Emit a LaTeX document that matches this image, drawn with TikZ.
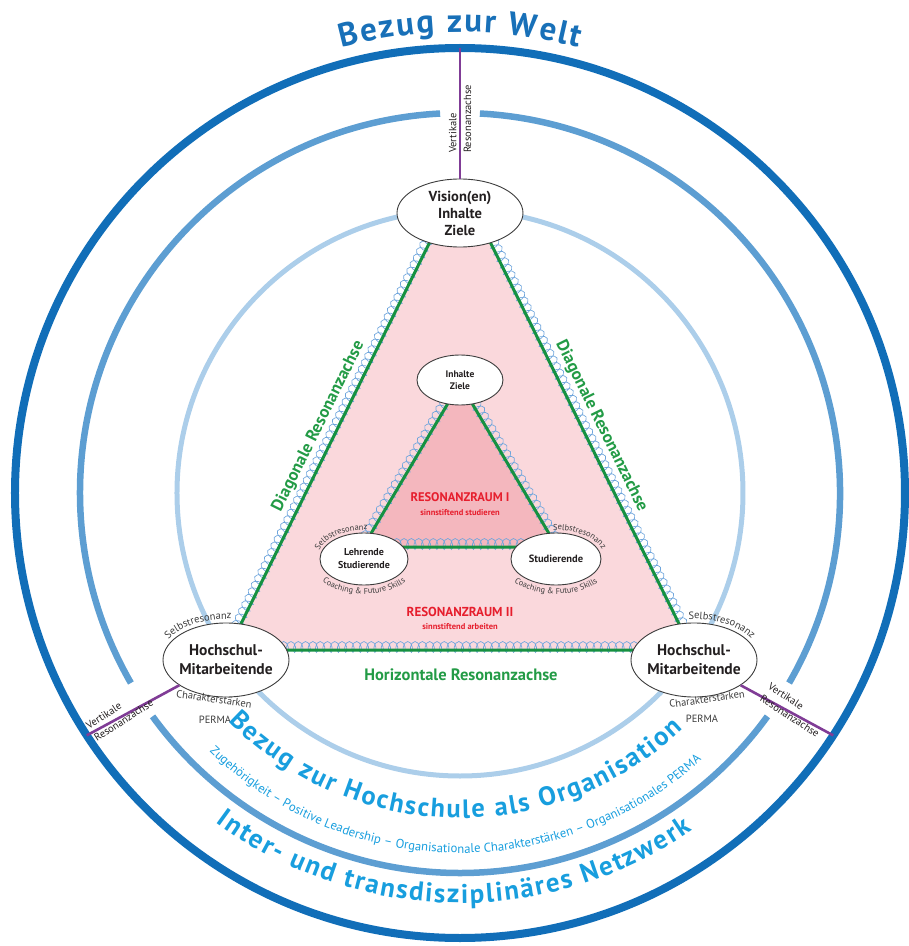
\documentclass[tikz,border=0pt]{standalone}
\usepackage{fontspec}
\setmainfont{PT Sans}
\usetikzlibrary{shapes.geometric,decorations.pathmorphing,decorations.text,calc}
\definecolor{cOuter}{RGB}{17,110,184}
\definecolor{cMid}{RGB}{93,158,210}
\definecolor{cInner}{RGB}{172,206,234}
\definecolor{cWelt}{RGB}{24,112,184}
\definecolor{cOrg}{RGB}{24,158,222}
\definecolor{purp}{RGB}{128,60,150}
\definecolor{grnL}{RGB}{22,145,65}
\definecolor{grnT}{RGB}{35,155,70}
\definecolor{redT}{RGB}{230,30,45}
\definecolor{pinkO}{RGB}{250,216,220}
\definecolor{pinkI}{RGB}{244,183,190}
\definecolor{coilc}{RGB}{110,165,220}
\definecolor{txtd}{RGB}{35,31,32}
\definecolor{txtg}{RGB}{60,60,60}
\definecolor{ellc}{RGB}{60,60,60}
\tikzset{
 ell/.style={ellipse, draw=ellc, line width=0.9pt, fill=white, inner sep=0pt},
 coilline/.style={draw=coilc, line width=0.65pt, decorate, decoration={coil, amplitude=5.5pt, segment length=7.3pt, aspect=0.5, raise=3pt}},
 greenline/.style={draw=grnL, line width=3pt, line join=round},
 axislbl/.style={inner sep=0pt, text=txtd, font=\fontsize{10.5}{12}\selectfont},
 smalllbl/.style={inner sep=0pt, text=txtg, font=\fontsize{10.5}{12}\selectfont},
 purpline/.style={draw=purp, line width=2.6pt},
}
\def\kw{{\kern2pt}}
\def\kb{{\kern1.8pt}}
\begin{document}
\begin{tikzpicture}[x=1pt,y=1pt]
\useasboundingbox (-460,-453) rectangle (449,493);
% circles
\draw[cOuter, line width=8pt] (0,0) circle[radius=445];
\draw[cInner, line width=5pt] (0,0) circle[radius=283];
\foreach \a/\b in {93/210, 216/324, 330/447}
  \draw[cMid, line width=6.5pt] (\a:380) arc[start angle=\a, end angle=\b, radius=380];
% triangles
\coordinate (A1) at (-232,-157);
\coordinate (A2) at (232,-157);
\coordinate (A3) at (0,312);
\coordinate (B1) at (-97,-54);
\coordinate (B2) at (97,-54);
\coordinate (B3) at (0,110);
\fill[pinkO] (A1) -- (A2) -- (A3) -- cycle;
\fill[pinkI] (B1) -- (B2) -- (B3) -- cycle;
\draw[coilline] (A1) -- (A3);
\draw[coilline] (A3) -- (A2);
\draw[coilline] (A1) -- (A2);
\draw[coilline] (B1) -- (B3);
\draw[coilline] (B3) -- (B2);
\draw[coilline] (B1) -- (B2);
\draw[greenline] (A1) -- (A2) -- (A3) -- cycle;
\draw[greenline] (B1) -- (B2) -- (B3) -- cycle;
% ellipses
\node[ell, minimum width=126pt, minimum height=68pt] (V) at (0,280) {};
\node[ell, minimum width=126pt, minimum height=74pt] (L) at (-234,-167) {};
\node[ell, minimum width=126pt, minimum height=74pt] (R) at (234,-167) {};
\node[ell, minimum width=86pt, minimum height=50pt] (I) at (0,113) {};
\node[ell, minimum width=88pt, minimum height=52pt] (LS) at (-96,-66) {};
\node[ell, minimum width=90pt, minimum height=52pt] (S) at (96,-66) {};
\node[align=center, text=txtd, font=\bfseries\fontsize{14.5}{17}\selectfont] (Vt) at (V) {Vision(en)\\Inhalte\\Ziele};
\node[align=center, text=txtd, font=\bfseries\fontsize{15.5}{19}\selectfont] (Lt) at (L) {Hochschul-\\Mitarbeitende};
\node[align=center, text=txtd, font=\bfseries\fontsize{15.5}{19}\selectfont] (Rt) at (R) {Hochschul-\\Mitarbeitende};
\node[align=center, text=txtd, font=\bfseries\fontsize{9.5}{11.5}\selectfont] (It) at (I) {Inhalte\\Ziele};
\node[align=center, text=txtd, font=\bfseries\fontsize{10}{13}\selectfont] (LSt) at (LS) {Lehrende\\Studierende};
\node[align=center, text=txtd, font=\bfseries\fontsize{10.5}{13}\selectfont] (St) at (S) {Studierende};
% purple axes
\draw[purpline] (90:445) -- (V);
\draw[purpline] (213:445) -- (L);
\draw[purpline] (327:445) -- (R);
\node[axislbl, rotate=90, anchor=base west] (v1a) at (-3.5,340) {Vertikale};
\node[axislbl, rotate=90, anchor=north west] (v1b) at (3.5,340) {Resonanzachse};
\node[axislbl, rotate=33, anchor=base west] (v2a) at ($(213:440)+(123:3.5)$) {Vertikale};
\node[axislbl, rotate=33, anchor=north west] (v2b) at ($(213:440)+(303:3.5)$) {Resonanzachse};
\node[axislbl, rotate=-33, anchor=base west] (v3a) at ($(327:364)+(57:3.5)$) {Vertikale};
\node[axislbl, rotate=-33, anchor=north west] (v3b) at ($(327:364)+(237:3.5)$) {Resonanzachse};
% green axis labels
\node[text=grnT, font=\bfseries\fontsize{17}{19}\selectfont, rotate=63.68] (dl) at ($(A1)!0.46!(A3)+(153.68:18)$) {Diagonale Resonanzachse};
\node[text=grnT, font=\bfseries\fontsize{17}{19}\selectfont, rotate=-63.68] (dr) at ($(A2)!0.46!(A3)+(26.32:18)$) {Diagonale Resonanzachse};
\node[text=grnT, font=\bfseries\fontsize{16.5}{19}\selectfont] (hz) at (1,-182) {Horizontale Resonanzachse};
% red labels
\node[text=redT, font=\bfseries\fontsize{12.5}{14}\selectfont] (r1) at (0,-4) {RESONANZRAUM I};
\node[text=redT, font=\bfseries\fontsize{8.5}{10}\selectfont] (r1s) at (0,-20) {sinnstiftend studieren};
\node[text=redT, font=\bfseries\fontsize{13}{15}\selectfont] (r2) at (0,-119) {RESONANZRAUM II};
\node[text=redT, font=\bfseries\fontsize{8.5}{10}\selectfont] (r2s) at (0,-134) {sinnstiftend arbeiten};
% labels around big ellipses
\path[decorate, decoration={text along path, text align=center, text={|\fontsize{10.5}{12}\selectfont\color{txtg}|Selbstresonanz}}]
  ($(L)+(178:67 and 41)$) arc[start angle=178, end angle=66, x radius=67, y radius=41];
\path[decorate, decoration={text along path, text align=center, text={|\fontsize{10.5}{12}\selectfont\color{txtg}|Selbstresonanz}}]
  ($(R)+(114:67 and 41)$) arc[start angle=114, end angle=2, x radius=67, y radius=41];
\node[smalllbl, rotate=-8] (cl) at (-246,-206) {Charakterstärken};
\node[smalllbl] (pl) at (-245,-227) {PERMA};
\node[smalllbl, rotate=8] (cr) at (247,-206) {Charakterstärken};
\node[smalllbl] (pr) at (242,-226) {PERMA};
% labels around small ellipses
\path[decorate, decoration={text along path, text align=center, text={|\fontsize{8.5}{9}\selectfont\color{txtg}|Selbstresonanz}}]
  ($(LS)+(195:47 and 29)$) arc[start angle=195, end angle=65, x radius=47, y radius=29];
\path[decorate, decoration={text along path, text align=center, text={|\fontsize{8.5}{9}\selectfont\color{txtg}|Selbstresonanz}}]
  ($(S)+(115:49 and 29)$) arc[start angle=115, end angle=-15, x radius=49, y radius=29];
\path[decorate, decoration={text along path, text align=center, text={|\fontsize{8.3}{9}\selectfont\color{txtg}|Coaching {\&} Future Skills}}]
  ($(LS)+(185:55 and 35)$) arc[start angle=185, end angle=355, x radius=55, y radius=35];
\path[decorate, decoration={text along path, text align=center, text={|\fontsize{8.3}{9}\selectfont\color{txtg}|Coaching {\&} Future Skills}}]
  ($(S)+(185:56 and 35)$) arc[start angle=185, end angle=355, x radius=56, y radius=35];
% circle texts
\path[decorate, decoration={text along path, text align=center, text={|\bfseries\fontsize{33}{33}\selectfont\color{cWelt}|B\kw e\kw z\kw u\kw g\kw{ }\kw z\kw u\kw r\kw{ }\kw W\kw e\kw l\kw t}}]
  (125:461) arc[start angle=125, end angle=55, radius=461];
\path[decorate, decoration={text along path, text align=center, text={|\bfseries\fontsize{26.5}{26.5}\selectfont\color{cOrg}|B\kb e\kb z\kb u\kb g\kb{ }\kb z\kb u\kb r\kb{ }\kb H\kb o\kb c\kb h\kb s\kb c\kb h\kb u\kb l\kb e\kb{ }\kb a\kb l\kb s\kb{ }\kb O\kb r\kb g\kb a\kb n\kb i\kb s\kb a\kb t\kb i\kb o\kb n}}]
  (199:325) arc[start angle=199, end angle=339, radius=325];
\path[decorate, decoration={text along path, text align=center, text={|\fontsize{12.7}{13}\selectfont\color{cOrg}|Zugehörigkeit – Positive Leadership – Organisationale Charakterstärken – Organisationales PERMA}}]
  (194:360) arc[start angle=194, end angle=344, radius=360];
\path[decorate, decoration={text along path, text align=center, text={|\bfseries\fontsize{27}{27}\selectfont\color{cOrg}|I\kb n\kb t\kb e\kb r\kb -\kb{ }\kb u\kb n\kb d\kb{ }\kb t\kb r\kb a\kb n\kb s\kb d\kb i\kb s\kb z\kb i\kb p\kb l\kb i\kb n\kb ä\kb r\kb e\kb s\kb{ }\kb N\kb e\kb t\kb z\kb w\kb e\kb r\kb k}}]
  (204:410) arc[start angle=204, end angle=334, radius=410];
\end{tikzpicture}
\end{document}
